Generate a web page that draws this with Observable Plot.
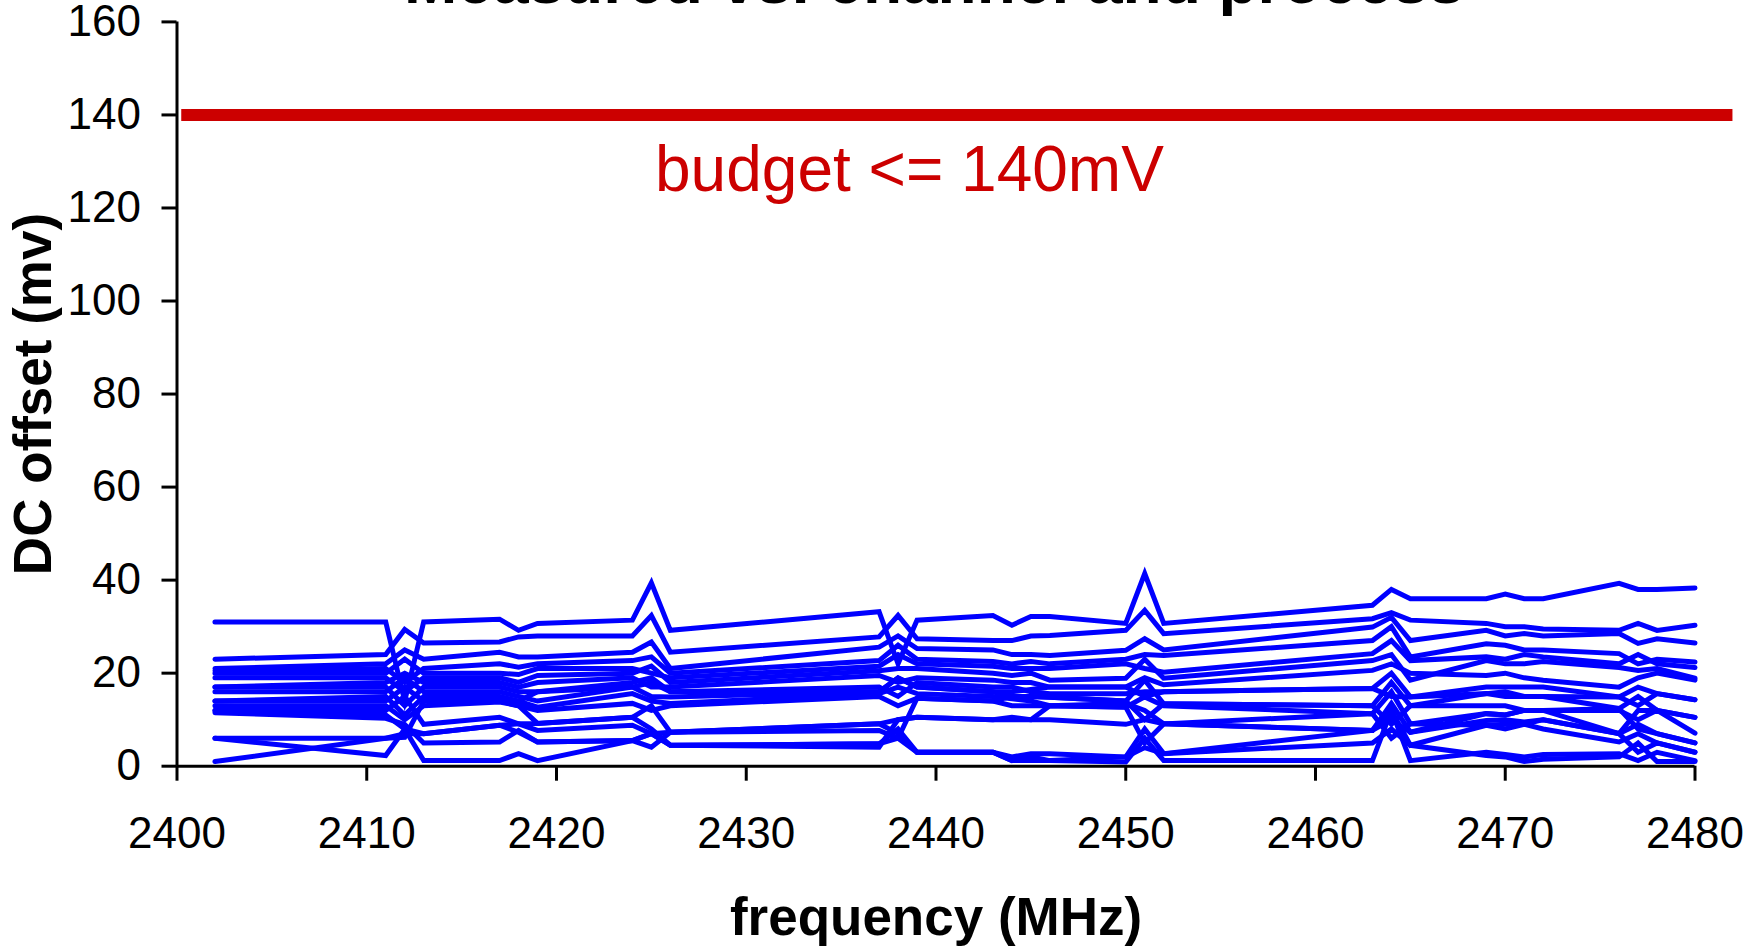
<!DOCTYPE html>
<html>
<head>
<meta charset="utf-8">
<script src="https://cdn.jsdelivr.net/npm/d3@7"></script>
<script src="https://cdn.jsdelivr.net/npm/@observablehq/plot@0.6"></script>
<style>
  html, body { margin: 0; padding: 0; background: #fff; }
  #chart svg { display: block; }
</style>
</head>
<body>
<div id="chart"></div>
<script>
// ---- data ----
const freq = [2402, 2411, 2412, 2413, 2417, 2418, 2419, 2424, 2425, 2426, 2437, 2438, 2439, 2443, 2444, 2445, 2446, 2450, 2451, 2452, 2463, 2464, 2465, 2469, 2470, 2471, 2472, 2476, 2477, 2478, 2480];

const S1  = [31,31,14,31,31.6,29.2,30.7,31.4,39.4,29.2,33.2,22,31.4,32.4,30.3,32.2,32.2,30.7,41.4,30.7,34.6,38,36,36,37,36,36,39.3,38,38,38.3];
const S2  = [23,24,29.4,26.5,26.7,27.8,28,28,32.4,24.5,27.8,32.4,27.4,27,27,28,28.1,29.2,33.5,28.5,31.7,33,31.4,30.7,30,30,29.5,29.2,30.7,29.2,30.3];
const S3  = [21,22,25,23,24.5,23.5,23.5,24.5,26.7,21,25.6,28,25.3,25,24,24,23.8,24.9,27.4,25,29.9,32,27,29.2,28,28.5,28,28.5,26.4,27.4,26.5];
const S4  = [20.5,21,18,21,22,21.3,22,22.7,23.5,20,22.7,26,23,22.5,22,22.5,22,23,24,23.8,27,30,23.5,26.3,26,25,25,24.2,22,23,22.4];
const S5  = [20,20,23,20,20,19.7,21,21,20,19,21.5,24,22,21.5,21,21,21,22,21,20.2,24.2,27,22.7,23.5,23,24,23.5,22,24,22,21.2];
const S6  = [19,19,16,19,19,18,19.5,20,21.5,18,20.5,21,21,20,19.5,20,18.5,18.9,23,18.9,22.7,24,18.5,22.7,22,22,22.5,21.2,20.6,21,18.9];
const S7  = [17,18,20,18,18,17,18,19,17,17,19.5,18,19,18.5,18,18,17,17,19,17.5,20.6,22,20,19.5,20,19,18.5,17,19,20,18.5];
const S8  = [17,17,13,17,17,16,16,18,19,16,17,15,18,17,17,16,15.6,15.6,16,16,16.7,20,14.9,17,17,17,17,14.9,17,15.6,14.3];
const S9  = [16,16,19,16,16,15,14,17,15,14.9,16,19,17,16,15,15,14.8,14,18.5,13.4,13,18,13,15.6,16,15,15,12.4,15,12,10.5];
const S10 = [14,15,11,15,15,14,12.7,15.6,14,13.5,15.6,17,15.6,15,14.5,14,13,12.7,14.9,13,11.3,16,9.1,11.3,11,12,12,12,10,12,7.1];
const S11 = [14,14,17,14,14,13,12,13.5,12,13,15,13,14.6,14,13,13,13,13.5,12,9.1,7.7,13.5,7.3,9.8,10,9.5,10,7,9,7,5];
const S12 = [13,13,10,13,13.8,13,9.2,10.5,13,7.3,9.1,10,10.5,10,10.5,10,10,9,10,9.1,7.7,12,4.5,8.8,8,9,8,5.2,7,5,3];
const S13 = [12,12,15,9,10.5,9.1,7.7,8.8,7,4.5,4.8,8,3,3,1.2,2,1.2,0.9,6,1.2,1.2,12,1.2,3,2.5,2,2.5,2.7,1.2,3,1.2];
const S14 = [12,11,8,7,8.8,7.3,5.2,5.5,4.1,7.3,7.7,6,3,3,2,2.7,2.7,2,4,2.7,5,8,4.5,2.3,2,1,1.5,2,5,1,1];
const S15 = [11.5,10.3,9,5,5.2,7.7,5.2,5.5,7,4.5,4.1,10,10.5,10,10,10,13,12.7,5,9.1,11.3,6,9.1,8.8,9,9,10,7,3,5,3];
const S16 = [6,2.3,8,1.2,1.2,2.7,1.2,5.5,7,7.3,9.1,7,3,3,1.2,1.2,1.2,2,8,2.7,7.7,10,7.3,11.3,11,12,12,12.4,8,7,5];
const S17 = [6,6,7,7,8.8,9.1,9.2,10.5,8,4.5,4.8,6,14.6,14,15,15,14.8,14,10,13.4,13,9,13,13,13,12,12,7,12,12,10.5];
const S18 = [1,6,6.2,14,14.9,14,16,17,18,16,16,19,17,16,16,16.5,17,17,15,16,16.7,15,14.9,15.6,15,15,15,14.9,13,15.6,14.3];

const seriesList = [S1,S2,S3,S4,S5,S6,S7,S8,S9,S10,S11,S12,S13,S14,S15,S16,S17,S18];

const xTicks = [2400, 2410, 2420, 2430, 2440, 2450, 2460, 2470, 2480];
const yTicks = [0, 20, 40, 60, 80, 100, 120, 140, 160];

const budget = [{x1: 2400.25, x2: 2482, y: 140}];
const budgetLabel = [{x: 2438.6, y: 140, text: "budget <= 140mV"}];

const titleText = "Measured vs. channel and process";
const xLabel = "frequency (MHz)";
const yLabel = "DC offset (mv)";

// ---- build table ----
const rows = [];
seriesList.forEach((vals, i) => {
  vals.forEach((v, j) => rows.push({series: "S" + (i + 1), freq: freq[j], dc: v}));
});

const chart = Plot.plot({
  width: 1763,
  height: 946,
  marginLeft: 176.5,
  marginRight: 68.5,
  marginTop: 21.4,
  marginBottom: 180.3,
  style: {
    fontFamily: "'Liberation Sans', Arial, Helvetica, sans-serif",
    fontSize: "44px",
    background: "white",
    color: "black",
    overflow: "visible"
  },
  x: {domain: [2400, 2480]},
  y: {domain: [0, 160]},
  marks: [
    Plot.line(rows, {
      x: "freq", y: "dc", z: "series",
      stroke: "#0000ff", strokeWidth: 5,
      strokeLinejoin: "miter", strokeMiterlimit: 10, strokeLinecap: "round"
    }),
    Plot.ruleY(budget, {y: "y", x1: "x1", x2: "x2", stroke: "#cc0000", strokeWidth: 12}),
    Plot.text(budgetLabel, {
      x: "x", y: "y", text: "text", fill: "#cc0000",
      fontSize: 64, lineAnchor: "bottom", dy: 76
    }),
    Plot.axisX({
      ticks: xTicks, tickSize: 15, tickPadding: 36, strokeWidth: 3,
      tickFormat: d => String(d), label: null
    }),
    Plot.axisY({
      ticks: yTicks, tickSize: 15, tickPadding: 21, strokeWidth: 3,
      tickFormat: d => String(d), label: null
    }),
    Plot.ruleX([2400], {y1: 0, y2: 160, stroke: "black", strokeWidth: 3}),
    Plot.ruleY([0], {x1: 2400, x2: 2480, stroke: "black", strokeWidth: 3}),
    Plot.text([titleText], {
      frameAnchor: "top", lineAnchor: "bottom", dy: -19, dx: -2,
      fontSize: 64, fontWeight: "bold", fill: "black"
    }),
    Plot.text([xLabel], {
      frameAnchor: "bottom", lineAnchor: "bottom", dy: 169,
      fontSize: 53, fontWeight: "bold", fill: "black"
    }),
    Plot.text([yLabel], {
      frameAnchor: "left", textAnchor: "middle", lineAnchor: "middle",
      rotate: -90, dx: -143,
      fontSize: 53, fontWeight: "bold", fill: "black"
    })
  ]
});

document.getElementById("chart").appendChild(chart);
</script>
</body>
</html>
